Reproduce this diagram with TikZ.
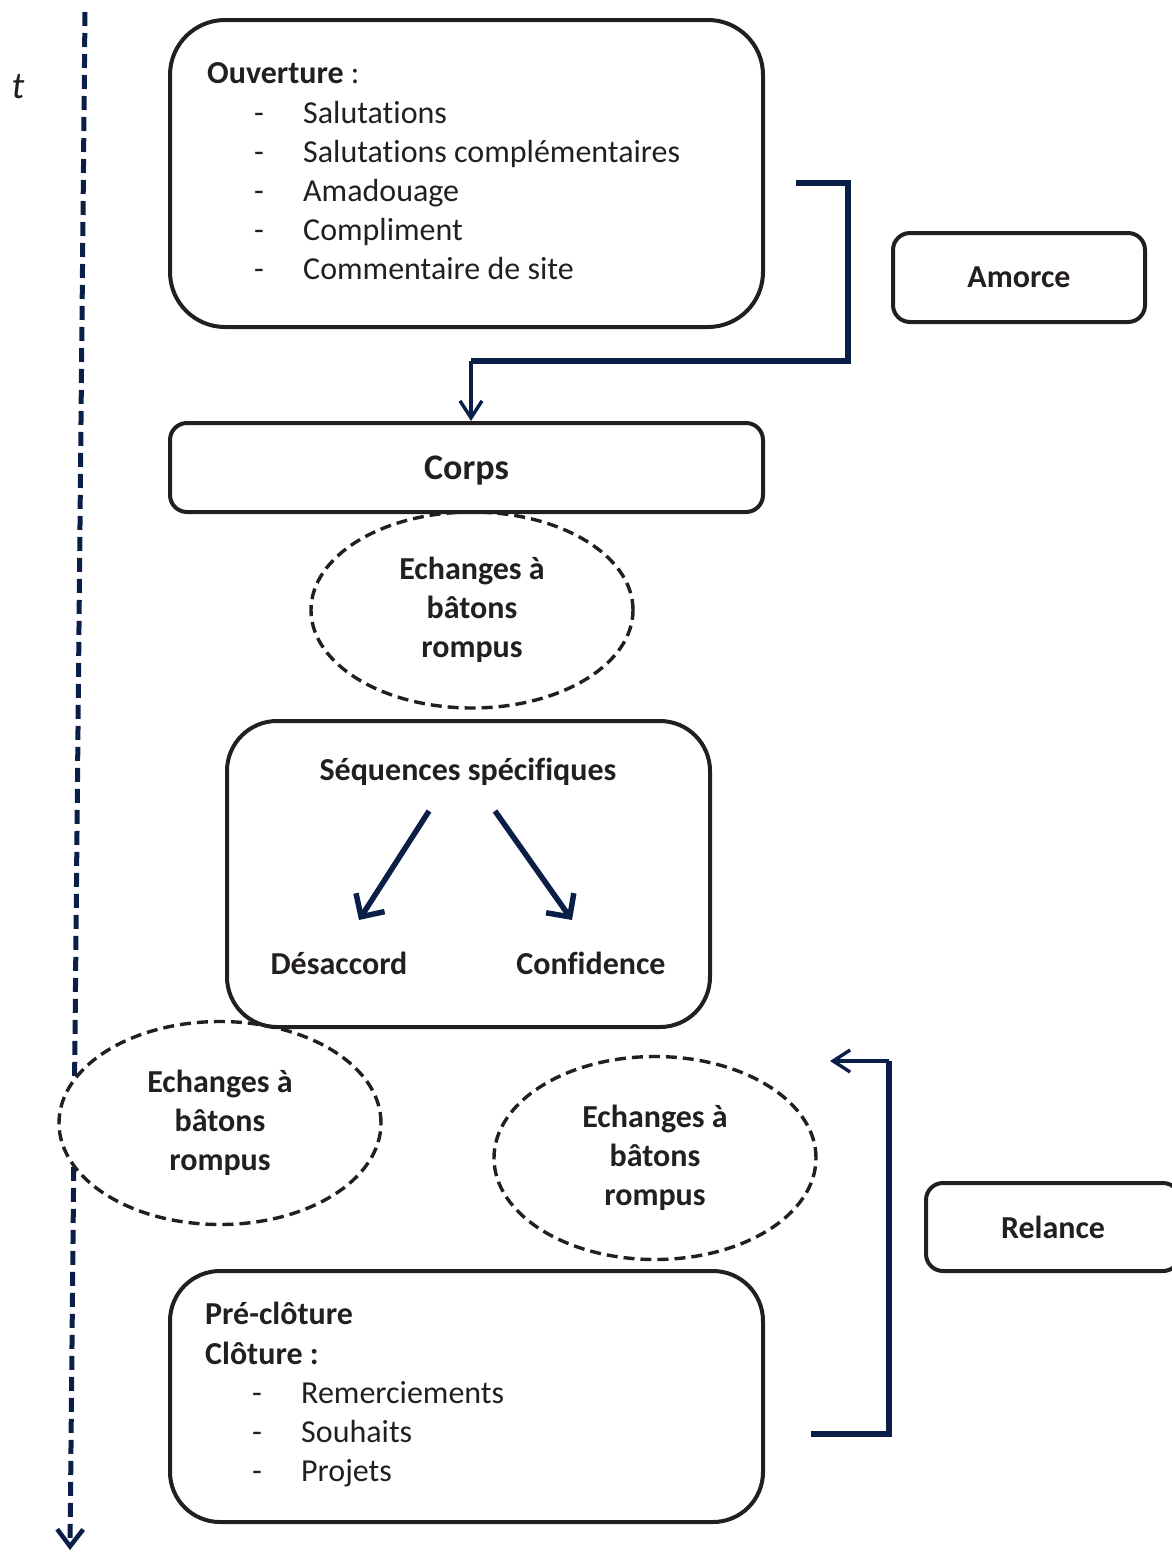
\documentclass[tikz,border=0pt]{standalone}
\usepackage{fontspec}
\setmainfont{Carlito}[Ligatures={CommonOff,ContextualOff}]
\usetikzlibrary{arrows.meta,shapes.geometric,calc}
\definecolor{navy}{RGB}{11,30,72}
\definecolor{ink}{RGB}{35,31,32}
\begin{document}
\begin{tikzpicture}[x=1pt,y=-1pt,
  box/.style={draw=ink, line width=4pt, rectangle, inner sep=0pt, text=ink, font=\fontsize{32}{39}\selectfont\bfseries},
  bubble/.style={draw=ink, line width=3.4pt, dash pattern=on 11pt off 6pt, ellipse, fill=white, inner sep=0pt, minimum width=322pt, align=center, text=ink, font=\fontsize{32}{39}\selectfont\bfseries},
  txt/.style={inner sep=0pt, anchor=base west, text=ink, font=\fontsize{32}{39}\selectfont},
  btxt/.style={txt, font=\fontsize{32}{39}\selectfont\bfseries},
  link/.style={draw=navy, line width=5.5pt},
  thinlink/.style={draw=navy, line width=3.4pt},
  tipsmall/.style={-{Straight Barb[length=17pt,width=22pt]}},
  tipbig/.style={-{Straight Barb[length=17pt,width=34pt]}}
]
\useasboundingbox (0,0) rectangle (1171,1553);

% time axis
\coordinate (t0) at (85,12);
\coordinate (t1) at (70,1550);
\draw[navy, line width=5pt, dash pattern=on 14pt off 7pt, -{Straight Barb[length=17pt,width=26pt,line width=4.5pt]}] (t0) -- (t1);
\node[inner sep=0pt, anchor=base, text=ink, font=\fontsize{38}{40}\selectfont\itshape] (tlab) at (18,98) {t};

% dashed bubbles
\node[bubble, minimum height=196pt] (e1) at (472,610) {Echanges à\\bâtons\\rompus};
\node[bubble, minimum height=203pt] (e2) at (220,1123) {Echanges à\\bâtons\\rompus};
\node[bubble, minimum height=203pt] (e3) at (655,1158) {Echanges à\\bâtons\\rompus};

% boxes
\node[box, rounded corners=55pt, minimum width=593pt, minimum height=307pt] (ouv) at (466.5,173.5) {};
\node[box, rounded corners=17pt, minimum width=252pt, minimum height=89pt] (amorce) at (1019,277.5) {Amorce};
\node[box, fill=white, rounded corners=17pt, minimum width=593pt, minimum height=89pt, text depth=0pt, font=\fontsize{36}{40}\selectfont\bfseries] (corps) at (466.5,467.5) {Corps};
\node[box, rounded corners=50pt, minimum width=483pt, minimum height=306pt] (seq) at (468.5,874) {};
\node[box, rounded corners=17pt, minimum width=254pt, minimum height=88pt] (relance) at (1053,1227) {Relance};
\node[box, rounded corners=50pt, minimum width=593pt, minimum height=251pt] (preclo) at (466.5,1396.5) {};

% Ouverture text
\node[txt] (o0) at (207,83) {\textbf{Ouverture} :};
\node[txt] (od1) at (254,123) {-};
\node[txt] (od2) at (254,162) {-};
\node[txt] (od3) at (254,201) {-};
\node[txt] (od4) at (254,240) {-};
\node[txt] (od5) at (254,279) {-};
\node[txt] (o1) at (303,123) {Salutations};
\node[txt] (o2) at (303,162) {Salutations complémentaires};
\node[txt] (o3) at (303,201) {Amadouage};
\node[txt] (o4) at (303,240) {Compliment};
\node[txt] (o5) at (303,279) {Commentaire de site};

% Sequences text
\node[btxt, anchor=base] (seqt) at (468,780) {Séquences spécifiques};
\node[btxt, anchor=base] (des) at (339,974) {Désaccord};
\node[btxt, anchor=base] (conf) at (591,974) {Confidence};
\coordinate (s1) at (429,811);
\coordinate (s2) at (495,811);
\coordinate (d1) at (359,920);
\coordinate (d2) at (572,920);
\draw[link, tipbig] (s1) -- (d1);
\draw[link, tipbig] (s2) -- (d2);

% Pre-cloture text
\node[btxt] (p0) at (205,1324) {Pré-clôture};
\node[btxt] (p1) at (205,1364) {Clôture :};
\node[txt] (pd1) at (252,1403) {-};
\node[txt] (pd2) at (252,1442) {-};
\node[txt] (pd3) at (252,1481) {-};
\node[txt] (p2) at (301,1403) {Remerciements};
\node[txt] (p3) at (301,1442) {Souhaits};
\node[txt] (p4) at (301,1481) {Projets};

% Amorce bracket
\coordinate (b0) at (796,183);
\coordinate (b1) at (848,361);
\coordinate (b2) at (471,361);
\draw[link] (b0) -| (b1) -- (b2);
\draw[thinlink, tipsmall] (b2) -- (b2 |- corps.north);

% Relance bracket
\coordinate (r0) at (811,1434);
\coordinate (r1) at (889,1061);
\coordinate (r2) at (830,1061);
\draw[link] (r0) -| (r1);
\draw[thinlink, tipsmall] (r1) -- (r2);
\end{tikzpicture}
\end{document}
